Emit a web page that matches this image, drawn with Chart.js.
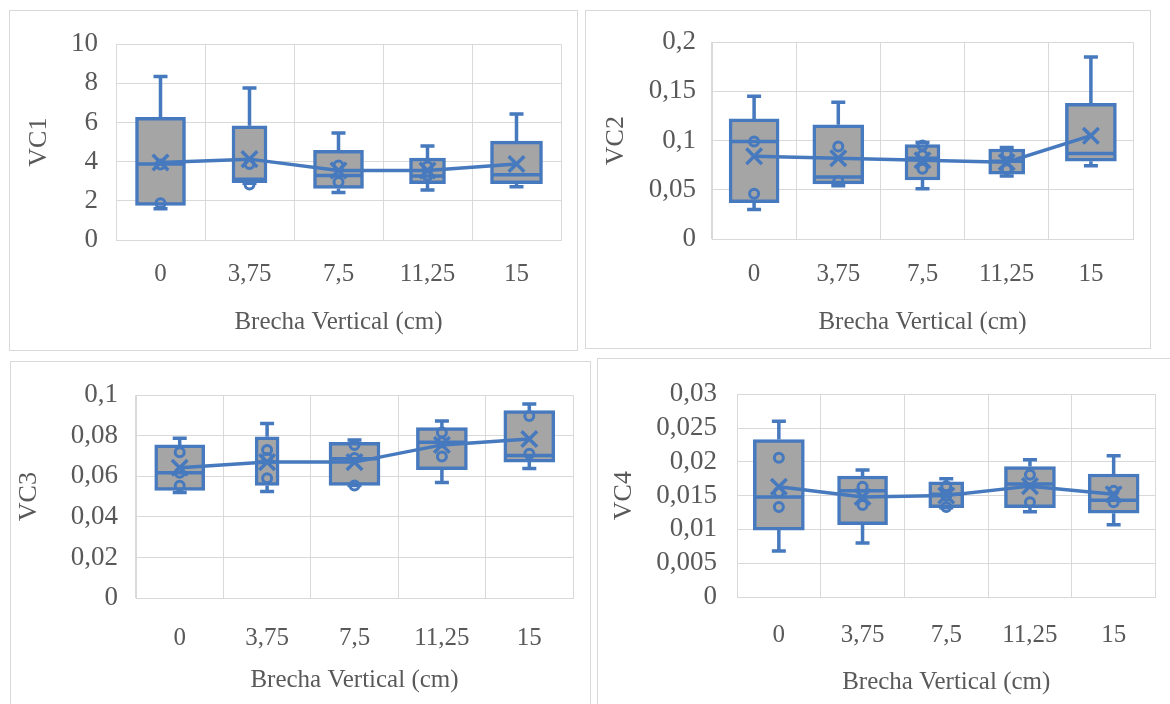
<!DOCTYPE html>
<html lang="es">
<head>
<meta charset="utf-8">
<title>Brecha Vertical - VC1 a VC4</title>
<script src="https://cdn.jsdelivr.net/npm/chart.js@4.4.1/dist/chart.umd.min.js"></script>
<style>
  body { margin: 0; background: #ffffff; width: 1170px; height: 704px; overflow: hidden; position: relative; }
  .marco { position: absolute; border: 1px solid #d9d9d9; box-sizing: border-box; }
  canvas { position: absolute; }
</style>
</head>
<body>

<div class="marco" style="left:9px;top:10px;width:569px;height:341px"></div>
<div class="marco" style="left:585px;top:10px;width:566px;height:339px"></div>
<div class="marco" style="left:10px;top:361px;width:581px;height:400px"></div>
<div class="marco" style="left:597px;top:358px;width:600px;height:400px"></div>

<canvas id="vc1" width="568" height="340" style="left:9px;top:10px"></canvas>
<canvas id="vc2" width="565" height="338" style="left:585px;top:10px"></canvas>
<canvas id="vc3" width="580" height="343" style="left:10px;top:361px"></canvas>
<canvas id="vc4" width="573" height="346" style="left:597px;top:358px"></canvas>

<script>
// categorías del eje x
var categorias = ["0", "3,75", "7,5", "11,25", "15"];

// VC1
var vc1Min = [1.6, 2.9, 2.42, 2.55, 2.72];
var vc1Q1 = [1.76, 2.93, 2.63, 2.88, 2.88];
var vc1Mediana = [3.88, 3.1, 3.3, 3.27, 3.33];
var vc1Q3 = [6.26, 5.83, 4.58, 4.18, 5.05];
var vc1Max = [8.35, 7.76, 5.47, 4.8, 6.43];
var vc1Media = [3.96, 4.13, 3.55, 3.55, 3.88];
var vc1Puntos = [[1.88, 3.85], [2.83, 3.88], [3.8, 2.96], [3.75, 3.3], []];
var vc1Ticks = ["0", "2", "4", "6", "8", "10"];

// VC2
var vc2Min = [0.030, 0.054, 0.051, 0.064, 0.0745];
var vc2Q1 = [0.037, 0.056, 0.060, 0.066, 0.079];
var vc2Mediana = [0.099, 0.063, 0.082, 0.079, 0.087];
var vc2Q3 = [0.122, 0.116, 0.096, 0.0915, 0.138];
var vc2Max = [0.145, 0.139, 0.098, 0.093, 0.185];
var vc2Media = [0.084, 0.082, 0.080, 0.078, 0.105];
var vc2Puntos = [[0.099, 0.046], [0.094, 0.059], [0.095, 0.0715, 0.085], [0.087, 0.071], []];
var vc2Ticks = ["0", "0,05", "0,1", "0,15", "0,2"];

// VC3
var vc3Min = [0.052, 0.0525, 0.0555, 0.0569, 0.0638];
var vc3Q1 = [0.053, 0.0555, 0.0555, 0.0633, 0.067];
var vc3Mediana = [0.0617, 0.067, 0.0687, 0.0768, 0.0703];
var vc3Q3 = [0.0755, 0.0795, 0.0768, 0.084, 0.0924];
var vc3Max = [0.0788, 0.086, 0.0779, 0.0873, 0.0956];
var vc3Media = [0.0642, 0.067, 0.067, 0.0755, 0.0784];
var vc3Puntos = [[0.0719, 0.0617, 0.0554], [0.073, 0.069, 0.059], [0.0755, 0.069, 0.0555], [0.0816, 0.0768, 0.0698], [0.0897, 0.0711]];
var vc3Ticks = ["0", "0,02", "0,04", "0,06", "0,08", "0,1"];

// VC4
var vc4Min = [0.0068, 0.0080, 0.0132, 0.0126, 0.0107];
var vc4Q1 = [0.0099, 0.0107, 0.0132, 0.0132, 0.0124];
var vc4Mediana = [0.0148, 0.0157, 0.0152, 0.0167, 0.0143];
var vc4Q3 = [0.0233, 0.0179, 0.01705, 0.0193, 0.0182];
var vc4Max = [0.0260, 0.0188, 0.0175, 0.0203, 0.0209];
var vc4Media = [0.0163, 0.0148, 0.0150, 0.0164, 0.0152];
var vc4Puntos = [[0.0206, 0.0155, 0.0133], [0.0163, 0.0136], [0.0164, 0.0133, 0.0150], [0.0181, 0.0140], [0.0157, 0.0140]];
var vc4Ticks = ["0", "0,005", "0,01", "0,015", "0,02", "0,025", "0,03"];

var azul = "#4679bd";
var gris = "#a5a5a5";
var texto = "#595959";
var rejilla = "#d9d9d9";

Chart.defaults.font.family = "'Liberation Serif', 'Times New Roman', serif";
Chart.defaults.font.size = 25;
Chart.defaults.color = texto;

// bigotes y mediana: se dibujan justo antes de la línea de medias
var bigotes = {
  id: "bigotes",
  beforeDatasetDraw: function (chart, args, opts) {
    if (chart.data.datasets[args.index].label !== "Media") return;
    var ctx = chart.ctx;
    var x = chart.scales.x;
    var y = chart.scales.y;
    ctx.save();
    ctx.strokeStyle = azul;
    ctx.lineWidth = 3.5;
    ctx.beginPath();
    for (var i = 0; i < opts.mediana.length; i++) {
      var cx = x.getPixelForValue(i);
      var medio = opts.anchos[i] / 2 - 2;
      var yMin = y.getPixelForValue(opts.min[i]);
      var yQ1 = y.getPixelForValue(opts.q1[i]);
      var yMed = y.getPixelForValue(opts.mediana[i]);
      var yQ3 = y.getPixelForValue(opts.q3[i]);
      var yMax = y.getPixelForValue(opts.max[i]);
      ctx.moveTo(cx, yQ3);
      ctx.lineTo(cx, yMax);
      ctx.moveTo(cx - 7, yMax);
      ctx.lineTo(cx + 7, yMax);
      ctx.moveTo(cx, yQ1);
      ctx.lineTo(cx, yMin);
      ctx.moveTo(cx - 7, yMin);
      ctx.lineTo(cx + 7, yMin);
      ctx.moveTo(cx - medio, yMed);
      ctx.lineTo(cx + medio, yMed);
    }
    ctx.stroke();
    ctx.restore();
  }
};

function crearPanel(id, titulo, mins, q1s, medianas, q3s, maxs, medias, puntos, ticks, yMax, paso, d) {
  var datasets = [];

  // una caja por categoría para poder darle su propio ancho
  categorias.forEach(function (cat, i) {
    datasets.push({
      type: "bar",
      label: "Caja " + cat,
      data: categorias.map(function (c, j) { return j === i ? [q1s[j], q3s[j]] : null; }),
      backgroundColor: gris,
      borderColor: azul,
      borderWidth: 3.5,
      borderSkipped: false,
      barThickness: d.anchos[i],
      grouped: false,
      order: 2
    });
  });

  datasets.push({
    type: "line",
    label: "Media",
    data: medias,
    borderColor: azul,
    borderWidth: 3.5,
    pointStyle: "crossRot",
    pointRadius: 11,
    pointBorderWidth: 3.5,
    pointBorderColor: azul,
    pointBackgroundColor: azul,
    fill: false,
    order: 1
  });

  var pts = [];
  puntos.forEach(function (lista, j) {
    lista.forEach(function (v) { pts.push({ x: categorias[j], y: v }); });
  });
  datasets.push({
    type: "line",
    label: "Puntos",
    data: pts,
    showLine: false,
    pointStyle: "circle",
    pointRadius: 4.5,
    pointBorderWidth: 3,
    pointBorderColor: azul,
    pointBackgroundColor: "rgba(0,0,0,0)",
    order: 0
  });

  var config = {
    type: "bar",
    data: { labels: categorias, datasets: datasets },
    options: {
      responsive: false,
      animation: false,
      layout: { padding: { top: d.arriba, right: d.derecha, left: 0, bottom: 0 } },
      plugins: {
        legend: { display: false },
        tooltip: { enabled: false },
        bigotes: { min: mins, q1: q1s, mediana: medianas, q3: q3s, max: maxs, anchos: d.anchos }
      },
      scales: {
        x: {
          type: "category",
          offset: true,
          grid: { offset: true, color: rejilla, drawTicks: false },
          border: { color: rejilla },
          ticks: { padding: d.padTickX, maxRotation: 0 },
          title: { display: true, text: "Brecha Vertical (cm)", padding: { top: 0, bottom: d.padTituloX } },
          afterFit: function (escala) { escala.height = d.altoEjeX; }
        },
        y: {
          min: 0,
          max: yMax,
          grid: { color: rejilla, drawTicks: false },
          border: { color: rejilla },
          ticks: {
            stepSize: paso,
            autoSkip: false,
            padding: d.padTickY,
            font: { size: 27 },
            callback: function (v, i) { return ticks[i]; }
          },
          title: { display: true, text: titulo, font: { size: 26 }, padding: { top: d.padTituloY, bottom: 0 } },
          afterFit: function (escala) { escala.width = d.anchoEjeY; }
        }
      }
    },
    plugins: [bigotes]
  };

  new Chart(document.getElementById(id).getContext("2d"), config);
}

crearPanel("vc1", "VC1", vc1Min, vc1Q1, vc1Mediana, vc1Q3, vc1Max, vc1Media, vc1Puntos, vc1Ticks, 10, 2,
  { arriba: 30, derecha: 16, anchoEjeY: 107, altoEjeX: 110, padTickY: 18, padTituloY: 15, padTickX: 19, padTituloX: 13, anchos: [50, 35, 50, 36, 52] });

crearPanel("vc2", "VC2", vc2Min, vc2Q1, vc2Mediana, vc2Q3, vc2Max, vc2Media, vc2Puntos, vc2Ticks, 0.2, 0.05,
  { arriba: 30, derecha: 17, anchoEjeY: 127, altoEjeX: 109, padTickY: 16, padTituloY: 16, padTickX: 20, padTituloX: 11, anchos: [50, 51, 35, 36, 51] });

crearPanel("vc3", "VC3", vc3Min, vc3Q1, vc3Mediana, vc3Q3, vc3Max, vc3Media, vc3Puntos, vc3Ticks, 0.1, 0.02,
  { arriba: 30, derecha: 17, anchoEjeY: 126, altoEjeX: 106, padTickY: 18, padTituloY: 4, padTickX: 25, padTituloX: 9, anchos: [50, 24, 51, 51, 51] });

crearPanel("vc4", "VC4", vc4Min, vc4Q1, vc4Mediana, vc4Q3, vc4Max, vc4Media, vc4Puntos, vc4Ticks, 0.03, 0.005,
  { arriba: 30, derecha: 6, anchoEjeY: 140, altoEjeX: 107, padTickY: 20, padTituloY: 12, padTickX: 23, padTituloX: 7, anchos: [51, 50, 35, 51, 51] });
</script>
</body>
</html>
